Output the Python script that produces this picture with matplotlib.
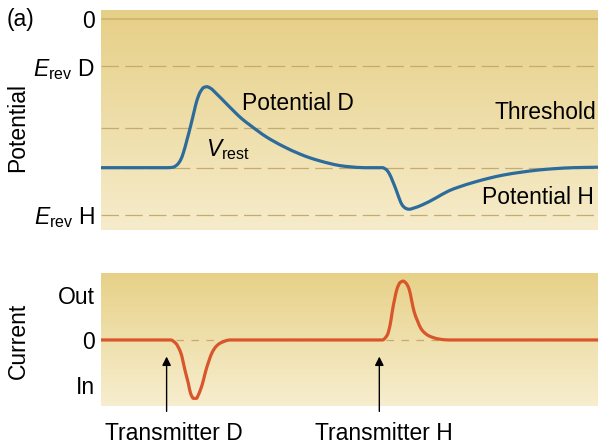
import numpy as np
import matplotlib
matplotlib.use("Agg")
import matplotlib.pyplot as plt
from matplotlib.path import Path
from matplotlib.patches import PathPatch

# ---------------- data ----------------
# reference levels of the potential trace (arbitrary mV-like units)
v_zero = 0.0
e_rev_d = -20.0
threshold = -46.0
v_rest = -63.0
e_rev_h = -83.0

pot_tick_values = [v_zero, e_rev_d, e_rev_h]
pot_tick_labels = ["0", r"$E_{\mathrm{rev}}$ D", r"$E_{\mathrm{rev}}$ H"]

# potential trace (time 0..100)
pot_t = [0, 13.5, 14.5, 15.3, 16, 16.6, 17.3, 18, 18.7, 19.3, 20, 20.7, 21.3,
         22, 23.3, 25, 26.7, 28.3, 30, 33.3, 36.7, 40, 42, 44, 46, 48, 50, 53,
         56.6, 57.4, 58, 58.7, 59.4, 60, 60.6, 61.3, 62, 62.8, 64.6, 67.4, 70,
         72, 75, 78, 81, 84.6, 88, 91.4, 95, 100]
pot_v = [-63, -63, -62.8, -61.8, -59.8, -56.5, -51.2, -45.6, -39.5, -34.5,
         -30.8, -29.0, -28.7, -29.3, -31.8, -35.4, -39.0, -42.2, -45.0, -50.0,
         -54.0, -57.2, -58.8, -60.1, -61.2, -62.1, -62.6, -63, -63, -63.8,
         -65.5, -68.8, -72.5, -76.0, -78.8, -80.2, -80.6, -80.2, -78.8, -75.8,
         -72.8, -71.2, -69.2, -67.5, -66.1, -64.9, -64.0, -63.4, -63.0, -62.8]

# current trace
cur_tick_values = [1, 0, -1]
cur_tick_labels = ["Out", "0", "In"]
cur_t = [0, 14, 15, 16, 17, 17.6, 18, 18.6, 19.2, 19.6, 20.4, 21, 21.7, 22.4,
         23.2, 24, 26, 56.6, 57.6, 58.2, 58.6, 59.1, 59.6, 60.2, 60.8, 61.4,
         62, 62.5, 63, 63.7, 64.4, 65.2, 66, 68, 70, 100]
cur_i = [0, 0, -0.07, -0.27, -0.72, -0.98, -1.18, -1.30, -1.30, -1.22, -0.98,
         -0.72, -0.47, -0.27, -0.14, -0.07, 0, 0, 0.11, 0.35, 0.63, 0.92,
         1.15, 1.28, 1.31, 1.26, 1.13, 0.88, 0.63, 0.42, 0.25, 0.15, 0.09,
         0.02, 0, 0]

transmitter_names = ["Transmitter D", "Transmitter H"]
transmitter_times = [13.2, 56.0]
transmitter_label_x = [14.6, 57.0]

# ---------------- styling ----------------
FONT = "Liberation Sans"
plt.rcParams["font.family"] = [FONT, "DejaVu Sans"]
plt.rcParams["mathtext.fontset"] = "custom"
plt.rcParams["mathtext.rm"] = FONT
plt.rcParams["mathtext.it"] = FONT + ":italic"
FS = 16.5
BLUE = "#2d6b9b"
RED = "#d9562c"
DASH = "#c6ab6e"
ZERO = "#d2b66f"


def gradient(ax, top_rgb, bot_rgb, ylim):
    n = 256
    top = np.array(top_rgb) / 255.0
    bot = np.array(bot_rgb) / 255.0
    f = np.linspace(0, 1, n)[:, None]
    img = top[None, :] * (1 - f) + bot[None, :] * f
    img = img[:, None, :]
    ax.imshow(img, extent=[0, 100, ylim[0], ylim[1]], aspect="auto",
              origin="upper", zorder=0, interpolation="bilinear")


def smooth_trace(ax, xs, ys, color, lw):
    """Draw a smooth Bezier path through the data points
    (monotone cubic tangents, rendered by matplotlib as CURVE4 segments)."""
    x = np.asarray(xs, float)
    y = np.asarray(ys, float)
    h = np.diff(x)
    delta = np.diff(y) / h
    n = len(x)
    d = np.zeros(n)
    d[0] = delta[0]
    d[-1] = delta[-1]
    for k in range(1, n - 1):
        if delta[k - 1] * delta[k] <= 0:
            d[k] = 0.0
        else:
            w1 = 2 * h[k] + h[k - 1]
            w2 = h[k] + 2 * h[k - 1]
            d[k] = (w1 + w2) / (w1 / delta[k - 1] + w2 / delta[k])
    verts = [(x[0], y[0])]
    codes = [Path.MOVETO]
    for i in range(n - 1):
        hi = h[i] / 3.0
        verts += [(x[i] + hi, y[i] + d[i] * hi),
                  (x[i + 1] - hi, y[i + 1] - d[i + 1] * hi),
                  (x[i + 1], y[i + 1])]
        codes += [Path.CURVE4] * 3
    patch = PathPatch(Path(verts, codes), facecolor="none", edgecolor=color,
                      lw=lw, capstyle="butt", joinstyle="round", zorder=3,
                      transform=ax.transData)
    ax.add_patch(patch)


fig = plt.figure(figsize=(6.08, 4.48), dpi=100)
W, H = 608, 448
left = 101 / W
width = (598 - 101) / W
ax1 = fig.add_axes([left, 1 - 230 / H, width, 220 / H])
ax2 = fig.add_axes([left, 1 - 406 / H, width, 133 / H])

# ---- top panel ----
ylim1 = (-89.4, 3.8)
gradient(ax1, (230, 207, 134), (246, 236, 203), ylim1)
ax1.axhline(v_zero, color=ZERO, lw=1.3, zorder=1)
for lvl in [e_rev_d, threshold, v_rest, e_rev_h]:
    ax1.axhline(lvl, color=DASH, lw=0.9, dashes=(14, 5), zorder=1)
smooth_trace(ax1, pot_t, pot_v, BLUE, 2.3)
ax1.set_xlim(0, 100)
ax1.set_ylim(*ylim1)
ax1.set_yticks(pot_tick_values)
ax1.set_yticklabels(pot_tick_labels)
ax1.set_xticks([])
ax1.tick_params(axis="y", length=0, pad=4.3, labelsize=FS)
for s in ax1.spines.values():
    s.set_visible(False)

ax1.text(28.4, -36, "Potential D", fontsize=FS, va="center", ha="left")
ax1.text(99.6, -39.8, "Threshold", fontsize=FS, va="center", ha="right")
ax1.text(21.2, -55.5, r"$V_{\mathrm{rest}}$", fontsize=FS, va="center", ha="left")
ax1.text(99.2, -75.8, "Potential H", fontsize=FS, va="center", ha="right")

# ---- bottom panel ----
ylim2 = (-1.47, 1.49)
gradient(ax2, (231, 209, 136), (247, 238, 207), ylim2)
ax2.axhline(0, color=DASH, lw=0.9, dashes=(6, 6), zorder=1)
smooth_trace(ax2, cur_t, cur_i, RED, 2.3)
ax2.set_xlim(0, 100)
ax2.set_ylim(*ylim2)
ax2.set_yticks(cur_tick_values)
ax2.set_yticklabels(cur_tick_labels)
ax2.set_xticks([])
ax2.tick_params(axis="y", length=0, pad=4.3, labelsize=FS)
for s in ax2.spines.values():
    s.set_visible(False)

for name, tt, tx in zip(transmitter_names, transmitter_times, transmitter_label_x):
    ax2.annotate("", xy=(tt, -0.37), xytext=(tt, -1.59),
                 arrowprops=dict(arrowstyle="-|>", color="black", lw=1.0,
                                 mutation_scale=13, shrinkA=0, shrinkB=0),
                 annotation_clip=False, zorder=4)
    ax2.text(tx, -2.08, name, fontsize=FS, ha="center", va="center",
             clip_on=False)

fig.text(18 / W, 1 - 128 / H, "Potential", fontsize=FS, rotation=90,
         ha="center", va="center")
fig.text(18 / W, 1 - 341 / H, "Current", fontsize=FS, rotation=90,
         ha="center", va="center")
fig.text(7 / W, 1 - 19.5 / H, "(a)", fontsize=FS, ha="left", va="center")

fig.savefig("out.png", dpi=100, facecolor="white")
